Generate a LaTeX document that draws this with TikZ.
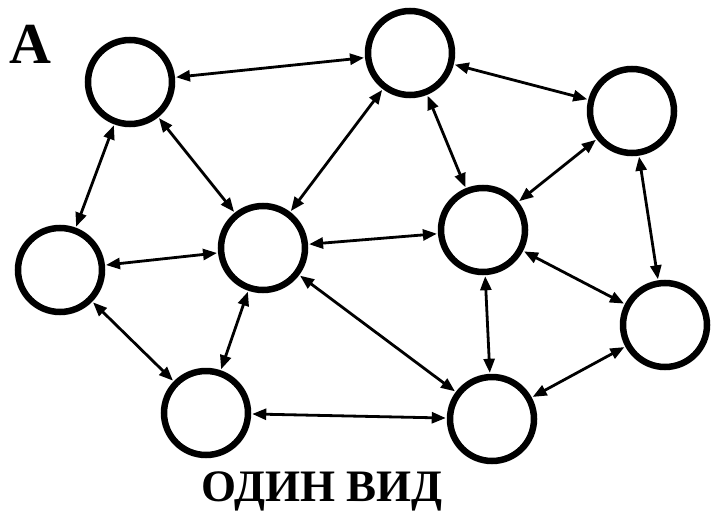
\documentclass[tikz,border=0pt]{standalone}
\usepackage{fontspec}
\setmainfont{Liberation Serif}
\usepackage{tikz}
\usetikzlibrary{arrows.meta}
\tikzstyle{vertex} = [circle, draw=black, line width=6.5pt, minimum size=84pt, inner sep=0pt, fill=white]
\tikzstyle{link} = [line width=2.8pt, {Triangle[length=14pt,width=11pt]}-{Triangle[length=14pt,width=11pt]}, shorten <=1pt, shorten >=1pt]
\tikzstyle{caption} = [font=\bfseries\fontsize{45}{45}\selectfont, inner sep=0pt]

\begin{document}
\begin{tikzpicture}[x=1pt, y=-1pt]
    \useasboundingbox (0,0) rectangle (711,516);
    \node[vertex] (v1) at (130,82) {};
    \node[vertex] (v2) at (410,53) {};
    \node[vertex] (v3) at (632,111) {};
    \node[vertex] (v4) at (60,270) {};
    \node[vertex] (v5) at (263,248) {};
    \node[vertex] (v6) at (483,230) {};
    \node[vertex] (v7) at (665,325) {};
    \node[vertex] (v8) at (206,413) {};
    \node[vertex] (v9) at (492,419) {};

    \node[caption, font=\bfseries\fontsize{58}{58}\selectfont] (lbl) at (30,44) {A};
    \node[caption] (title) at (322,491) {ОДИН ВИД};

    \draw[link] (v1) -- (v2);
    \draw[link] (v2) -- (v3);
    \draw[link] (v1) -- (v4);
    \draw[link] (v1) -- (v5);
    \draw[link] (v2) -- (v5);
    \draw[link] (v2) -- (v6);
    \draw[link] (v3) -- (v6);
    \draw[link] (v3) -- (v7);
    \draw[link] (v4) -- (v5);
    \draw[link] (v4) -- (v8);
    \draw[link] (v5) -- (v6);
    \draw[link] (v5) -- (v8);
    \draw[link] (v5) -- (v9);
    \draw[link] (v6) -- (v9);
    \draw[link] (v6) -- (v7);
    \draw[link] (v8) -- (v9);
    \draw[link] (v9) -- (v7);
\end{tikzpicture}
\end{document}
